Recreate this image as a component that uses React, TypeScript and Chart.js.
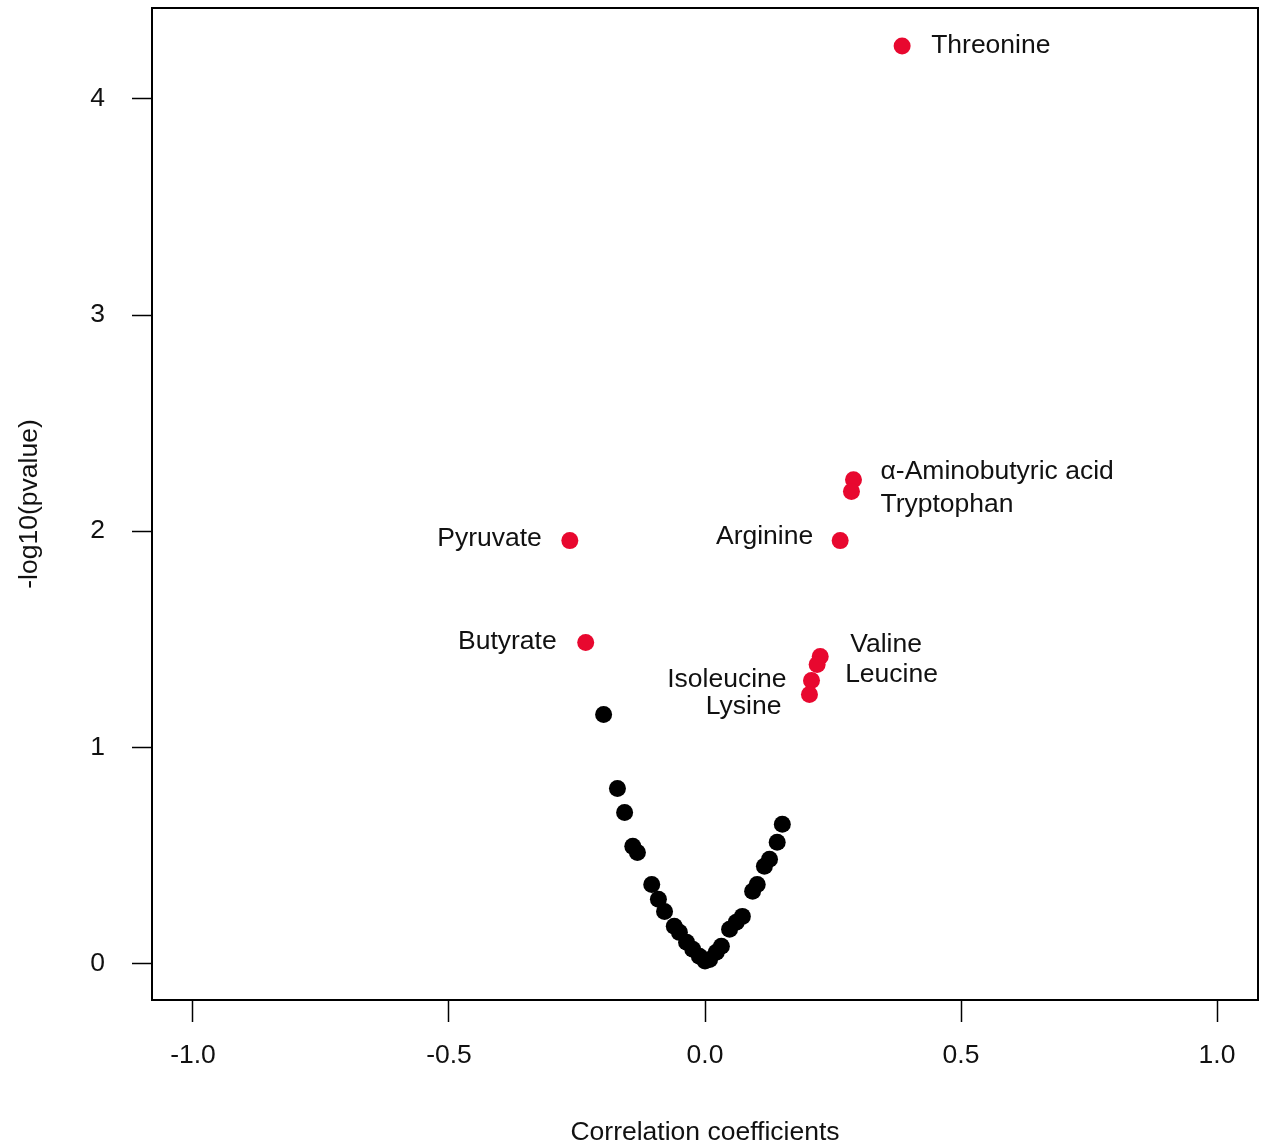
import React, { useEffect, useRef } from "react";
import { Chart, registerables } from "chart.js";

Chart.register(...registerables);

// Non-significant metabolites (black)
const blackX = [
  -0.198, -0.171, -0.157, -0.141, -0.132, -0.104, -0.091, -0.079, -0.06, -0.05,
  -0.036, -0.024, -0.011, 0.0, 0.009, 0.022, 0.032, 0.048, 0.061, 0.073,
  0.093, 0.102, 0.116, 0.126, 0.141, 0.151,
];
const blackY = [
  1.151, 0.809, 0.698, 0.541, 0.513, 0.365, 0.296, 0.24, 0.171, 0.143,
  0.097, 0.065, 0.032, 0.01, 0.018, 0.051, 0.079, 0.157, 0.19, 0.217,
  0.333, 0.365, 0.449, 0.481, 0.56, 0.643,
];

// Significant metabolites (red)
const redNames = [
  "Threonine",
  "α-Aminobutyric acid",
  "Tryptophan",
  "Arginine",
  "Pyruvate",
  "Butyrate",
  "Valine",
  "Leucine",
  "Isoleucine",
  "Lysine",
];
const redX = [0.385, 0.29, 0.286, 0.264, -0.264, -0.233, 0.225, 0.219, 0.208, 0.204];
const redY = [4.245, 2.238, 2.183, 1.956, 1.956, 1.484, 1.42, 1.383, 1.309, 1.244];

// Label placement (style): side and pixel offsets from the point
const labelStyle = [
  { dx: 29, dy: 0 },
  { dx: 27, dy: -8 },
  { dx: 29, dy: 13 },
  { dx: -27, dy: -4 },
  { dx: -28, dy: -2 },
  { dx: -29, dy: -1 },
  { dx: 30, dy: -12 },
  { dx: 28, dy: 10 },
  { dx: -25, dy: -1 },
  { dx: -28, dy: 12 },
];

const xTicks = [-1, -0.5, 0, 0.5, 1];
const xTickLabels = ["-1.0", "-0.5", "0.0", "0.5", "1.0"];
const yTicks = [0, 1, 2, 3, 4];
const yTickLabels = ["0", "1", "2", "3", "4"];

const FONT = "'Liberation Sans', Arial, Helvetica, sans-serif";
const RED = "#E8082F";
const FS = 26.5;

export default function App() {
  const ref = useRef<HTMLCanvasElement | null>(null);

  useEffect(() => {
    if (!ref.current) return;

    const boxPlugin = {
      id: "boxAndLabels",
      afterDatasetsDraw(chart: any) {
        const { ctx, chartArea, scales } = chart;
        ctx.save();
        ctx.strokeStyle = "#000";
        ctx.lineWidth = 2;
        ctx.strokeRect(
          chartArea.left,
          chartArea.top,
          chartArea.right - chartArea.left,
          chartArea.bottom - chartArea.top
        );
        ctx.fillStyle = "#111";
        ctx.font = `${FS}px ${FONT}`;
        ctx.textBaseline = "middle";
        redNames.forEach((name, i) => {
          const px = scales.x.getPixelForValue(redX[i]);
          const py = scales.y.getPixelForValue(redY[i]);
          const s = labelStyle[i];
          ctx.textAlign = s.dx >= 0 ? "left" : "right";
          ctx.fillText(name, px + s.dx, py + s.dy);
        });
        ctx.restore();
      },
    };

    const chart = new Chart(ref.current, {
      type: "scatter",
      data: {
        datasets: [
          {
            label: "ns",
            data: blackX.map((x, i) => ({ x, y: blackY[i] })),
            backgroundColor: "#000",
            borderColor: "#000",
            pointRadius: 8.5,
            borderWidth: 0,
          },
          {
            label: "sig",
            data: redX.map((x, i) => ({ x, y: redY[i] })),
            backgroundColor: RED,
            borderColor: RED,
            pointRadius: 8.5,
            borderWidth: 0,
          },
        ],
      },
      plugins: [boxPlugin],
      options: {
        responsive: false,
        animation: false,
        events: [],
        layout: { autoPadding: false, padding: { top: 8, right: 10, left: 0, bottom: 0 } },
        plugins: {
          legend: { display: false },
          tooltip: { enabled: false },
        },
        scales: {
          x: {
            type: "linear",
            min: -1.08,
            max: 1.08,
            afterFit: (s: any) => {
              s.height = 146;
              s.paddingLeft = 0;
              s.paddingRight = 0;
            },
            afterBuildTicks: (s: any) => {
              s.ticks = xTicks.map((v) => ({ value: v }));
            },
            border: { display: false },
            grid: {
              drawOnChartArea: false,
              drawTicks: true,
              tickLength: 22,
              tickColor: "#000",
              tickWidth: 1.5,
            },
            ticks: {
              padding: 18,
              color: "#111",
              font: { family: FONT, size: FS },
              maxRotation: 0,
              autoSkip: false,
              callback: (v: any) => {
                const i = xTicks.indexOf(Number(v));
                return i >= 0 ? xTickLabels[i] : "";
              },
            },
            title: {
              display: true,
              text: "Correlation coefficients",
              color: "#111",
              font: { family: FONT, size: FS, lineHeight: 1 },
              padding: { top: 0, bottom: 0 },
            },
          },
          y: {
            type: "linear",
            min: -0.17,
            max: 4.421,
            afterFit: (s: any) => {
              s.width = 152;
              s.paddingTop = 0;
              s.paddingBottom = 0;
            },
            afterBuildTicks: (s: any) => {
              s.ticks = yTicks.map((v) => ({ value: v }));
            },
            border: { display: false },
            grid: {
              drawOnChartArea: false,
              drawTicks: true,
              tickLength: 20,
              tickColor: "#000",
              tickWidth: 1.5,
            },
            ticks: {
              padding: 27,
              color: "#111",
              font: { family: FONT, size: FS },
              autoSkip: false,
              callback: (v: any) => {
                const i = yTicks.indexOf(Number(v));
                return i >= 0 ? yTickLabels[i] : "";
              },
            },
            title: {
              display: true,
              text: "-log10(pvalue)",
              color: "#111",
              font: { family: FONT, size: FS, lineHeight: 1 },
              padding: { top: 16, bottom: 0 },
            },
          },
        },
      },
    } as any);

    return () => chart.destroy();
  }, []);

  return (
    <div
      style={{
        position: "fixed",
        left: 0,
        top: 0,
        width: 1268,
        height: 1146,
        background: "#fff",
      }}
    >
      <canvas ref={ref} width={1268} height={1146} />
    </div>
  );
}
